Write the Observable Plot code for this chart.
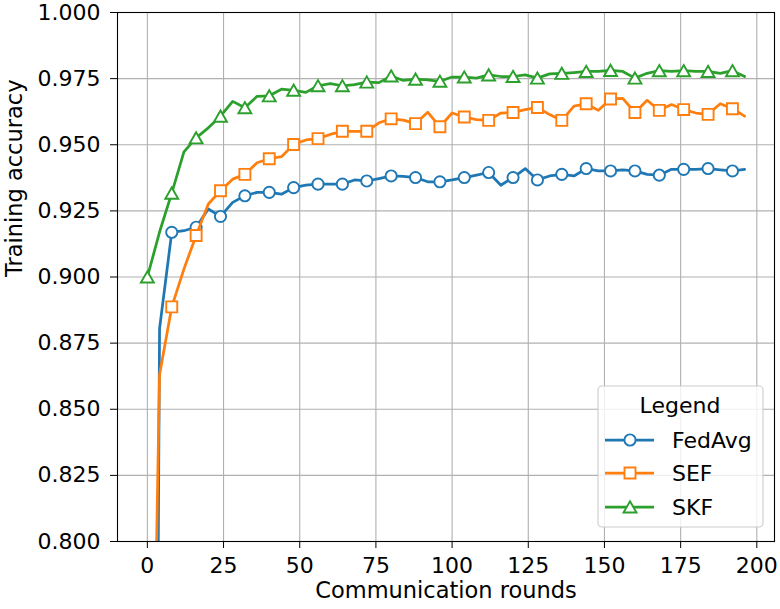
<!DOCTYPE html>
<html><head><meta charset="utf-8">
<script src="https://cdn.jsdelivr.net/npm/d3@7"></script>
<script src="https://cdn.jsdelivr.net/npm/@observablehq/plot@0.6"></script>
<style>body{margin:0;background:#fff;} #chart svg{overflow:visible;}</style>
</head><body><div id="chart"></div>
<script>
const rounds = [0,4,8,12,16,20,24,28,32,36,40,44,48,52,56,60,64,68,72,76,80,84,88,92,96,100,104,108,112,116,120,124,128,132,136,140,144,148,152,156,160,164,168,172,176,180,184,188,192,196];
const fedavg = [0.10,0.8805,0.9169,0.9175,0.9188,0.9257,0.9229,0.9282,0.9307,0.932,0.932,0.9313,0.9338,0.9347,0.9351,0.9351,0.9351,0.9367,0.9363,0.9372,0.9382,0.938,0.9376,0.936,0.936,0.9367,0.9376,0.9385,0.9395,0.9347,0.9376,0.941,0.9367,0.9382,0.9388,0.9382,0.941,0.9401,0.9401,0.9405,0.9401,0.9388,0.9385,0.9407,0.9407,0.9407,0.941,0.9405,0.9401,0.9407];
const sef = [0.60,0.863,0.8887,0.903,0.9157,0.9276,0.9326,0.937,0.9388,0.9432,0.9447,0.9455,0.9501,0.9518,0.9523,0.9539,0.9551,0.9551,0.9551,0.9583,0.9598,0.9593,0.958,0.9623,0.9568,0.962,0.9605,0.9595,0.9592,0.962,0.9622,0.9633,0.9641,0.9614,0.9592,0.9646,0.9655,0.963,0.9673,0.9675,0.9622,0.9668,0.963,0.9652,0.9633,0.962,0.9615,0.9655,0.9636,0.9608];
const skf = [0.900,0.917,0.9317,0.9473,0.9526,0.9564,0.9608,0.9664,0.964,0.9683,0.9685,0.971,0.9706,0.9698,0.9723,0.9731,0.9723,0.9727,0.9737,0.9735,0.976,0.9743,0.9748,0.9745,0.974,0.9756,0.9756,0.9752,0.9764,0.9758,0.9758,0.9764,0.9752,0.9768,0.977,0.9773,0.9777,0.9777,0.9781,0.9777,0.9752,0.977,0.978,0.9777,0.978,0.9777,0.9777,0.977,0.978,0.9758];
const seriesNames = ["FedAvg","SEF","SKF"];
const seriesValues = [fedavg, sef, skf];
const colors = ["#1f77b4","#ff7f0e","#2ca02c"];
const symbols = ["circle","square","triangle"];
const xTicks = [0,25,50,75,100,125,150,175,200];
const yTicks = [0.800,0.825,0.850,0.875,0.900,0.925,0.950,0.975,1.000];

const font = "DejaVu Sans, sans-serif";
const ML = 117, MR = 6, MT = 12, MB = 68, W = 780, H = 609;

const marks = [
  Plot.gridX(xTicks, {stroke: "#b0b0b0", strokeOpacity: 1, strokeWidth: 1.1}),
  Plot.gridY(yTicks, {stroke: "#b0b0b0", strokeOpacity: 1, strokeWidth: 1.1}),
];
const symR = {circle: 5.6, square: 6.2, triangle: 4.8};
seriesNames.forEach((name, i) => {
  const rows = rounds.map((r, j) => ({round: r, acc: seriesValues[i][j], series: name}));
  marks.push(Plot.line(rows, {x: "round", y: "acc", stroke: colors[i], strokeWidth: 2.75, clip: true}));
  marks.push(Plot.dot(rows.filter((d, j) => j % 2 === 0), {
    x: "round", y: "acc", symbol: () => symbols[i], r: symR[symbols[i]],
    stroke: colors[i], fill: "white", strokeWidth: 1.9, clip: true,
    dy: symbols[i] === "triangle" ? 1.8 : 0
  }));
});
marks.push(
  Plot.frame({stroke: "black", strokeWidth: 1.1}),
  Plot.axisX({ticks: xTicks, tickSize: 7, tickPadding: 9, fontSize: 22, label: null}),
  Plot.axisY({ticks: yTicks, tickFormat: d3.format(".3f"), tickSize: 7, tickPadding: 10, fontSize: 22, label: null}),
  Plot.text(["Communication rounds"], {frameAnchor: "bottom", dy: 56, fontSize: 22.5}),
  Plot.text(["Training accuracy"], {frameAnchor: "left", dx: -103, rotate: -90, fontSize: 22.5})
);

const chart = Plot.plot({
  width: W, height: H,
  marginLeft: ML, marginRight: MR, marginTop: MT, marginBottom: MB,
  style: {fontFamily: font, fontSize: "22px", background: "white", color: "black"},
  x: {domain: [-9.8, 205.8]},
  y: {domain: [0.8, 1.0]},
  symbol: {type: "identity"},
  marks
});
document.getElementById("chart").append(chart);

// Legend box (inside the axes, lower right)
const svg = d3.select(chart);
const g = svg.append("g").attr("font-family", font).attr("font-size", 22).attr("text-anchor", "start");
g.append("rect").attr("x", 598).attr("y", 386).attr("width", 165).attr("height", 141)
  .attr("rx", 4).attr("fill", "white").attr("fill-opacity", 0.8)
  .attr("stroke", "#cccccc").attr("stroke-width", 1.1);
g.append("text").attr("x", 680).attr("y", 405).attr("text-anchor", "middle")
  .attr("dominant-baseline", "central").attr("fill", "black").text("Legend");
const entryY = [440, 473, 507];
seriesNames.forEach((name, i) => {
  const y = entryY[i];
  g.append("line").attr("x1", 605).attr("x2", 654).attr("y1", y).attr("y2", y)
    .attr("stroke", colors[i]).attr("stroke-width", 2.75);
  const sym = {circle: d3.symbolCircle, square: d3.symbolSquare, triangle: d3.symbolTriangle}[symbols[i]];
  const r = symR[symbols[i]];
  g.append("path").attr("d", d3.symbol(sym, Math.PI * r * r)())
    .attr("transform", `translate(630,${y + (symbols[i] === "triangle" ? 1.8 : 0)})`)
    .attr("fill", "white").attr("stroke", colors[i]).attr("stroke-width", 1.9);
  g.append("text").attr("x", 672).attr("y", y).attr("text-anchor", "start")
    .attr("dominant-baseline", "central").attr("fill", "black").text(name);
});
</script></body></html>
